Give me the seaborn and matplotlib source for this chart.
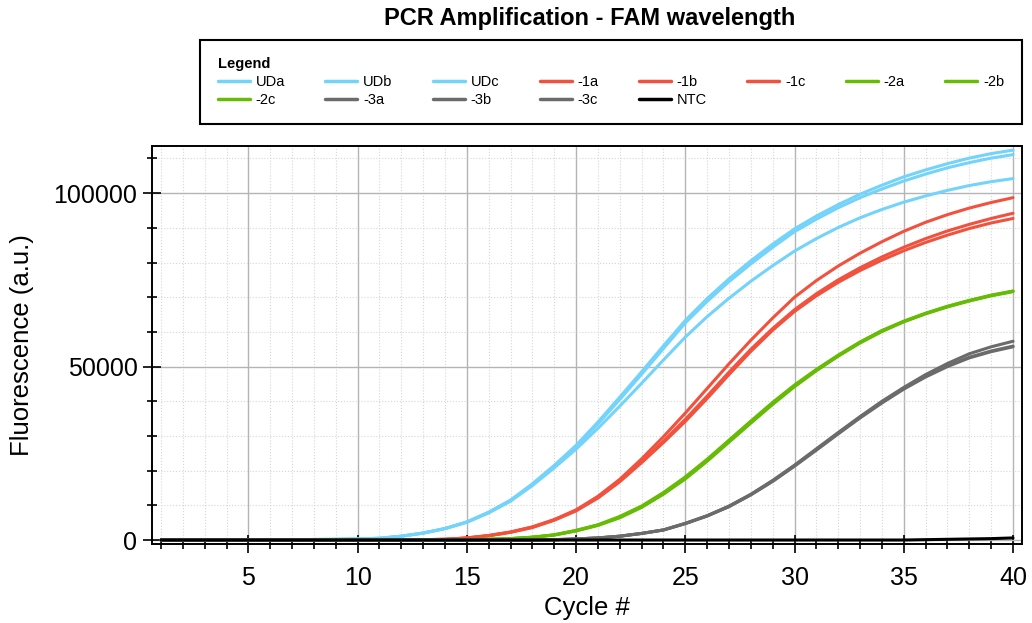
import numpy as np
import pandas as pd
import matplotlib
matplotlib.use("Agg")
import matplotlib.pyplot as plt
from matplotlib.lines import Line2D
from matplotlib.ticker import MultipleLocator, StrMethodFormatter
import seaborn as sns

# cycles and fluorescence readings (a.u.)
cycles = list(range(1, 41))

uda = [0, 0, 0, 0, 0, 50, 100, 150, 200, 300,
       500, 1100, 2000, 3300, 5200, 8000, 11500, 16200, 21500, 27300,
       34000, 41200, 48500, 56000, 63300, 69600, 75300, 80500, 85300, 89700,
       93400, 96700, 99700, 102300, 104700, 106700, 108500, 110100, 111400, 112400]
udb = [0, 0, 0, 0, 0, 50, 100, 150, 200, 300,
       500, 1100, 2000, 3300, 5200, 8000, 11400, 16000, 21300, 26900,
       33500, 40500, 47800, 55200, 62600, 68800, 74500, 79600, 84400, 88900,
       92500, 95800, 98700, 101200, 103500, 105500, 107300, 108800, 110100, 111100]
udc = [0, 0, 0, 0, 0, 50, 100, 150, 200, 300,
       500, 1100, 2000, 3300, 5100, 7800, 11200, 15700, 20800, 26200,
       32200, 38600, 45200, 51900, 58500, 64400, 69700, 74600, 79100, 83300,
       86900, 90100, 92900, 95300, 97400, 99200, 100800, 102200, 103300, 104200]
m1a = [0, 0, 0, 0, 0, 0, 0, 0, 0, 0,
       0, 50, 100, 200, 600, 1300, 2300, 3800, 5900, 8700,
       12600, 17500, 23400, 29800, 36600, 43700, 50800, 57600, 64000, 70000,
       74800, 79000, 82700, 86000, 89000, 91600, 93800, 95700, 97300, 98700]
m1b = [0, 0, 0, 0, 0, 0, 0, 0, 0, 0,
       0, 50, 100, 200, 600, 1300, 2300, 3700, 5800, 8500,
       12300, 17000, 22600, 28500, 34800, 41500, 48400, 55000, 61000, 66400,
       71000, 75000, 78500, 81600, 84400, 86900, 89100, 91000, 92700, 94200]
m1c = [0, 0, 0, 0, 0, 0, 0, 0, 0, 0,
       0, 50, 100, 200, 550, 1200, 2200, 3600, 5700, 8400,
       12100, 16800, 22300, 28100, 34200, 40800, 47700, 54400, 60500, 65900,
       70400, 74300, 77700, 80700, 83400, 85800, 87900, 89800, 91400, 92700]
m2a = [0, 0, 0, 0, 0, 0, 0, 0, 0, 0,
       0, 0, 0, 50, 100, 200, 400, 800, 1500, 2700,
       4300, 6600, 9600, 13400, 17900, 23000, 28500, 34000, 39400, 44500,
       49000, 53200, 57000, 60300, 63000, 65300, 67300, 69000, 70500, 71700]
m2b = [0, 0, 0, 0, 0, 0, 0, 0, 0, 0,
       0, 0, 0, 50, 100, 200, 400, 800, 1400, 2600,
       4200, 6400, 9400, 13200, 17600, 22700, 28200, 33700, 39100, 44200,
       48800, 53000, 56800, 60100, 62900, 65200, 67200, 68900, 70400, 71600]
m2c = [0, 0, 0, 0, 0, 0, 0, 0, 0, 0,
       0, 0, 0, 50, 100, 200, 400, 800, 1500, 2800,
       4400, 6800, 9800, 13700, 18200, 23300, 28800, 34300, 39700, 44700,
       49200, 53300, 57100, 60400, 63100, 65400, 67400, 69100, 70600, 71800]
m3a = [0, 0, 0, 0, 0, 0, 0, 0, 0, 0,
       0, 0, 0, 0, 0, 0, 0, 0, 100, 300,
       600, 1100, 1900, 2900, 4800, 7000, 9800, 13200, 17200, 21600,
       26300, 31000, 35600, 40000, 44000, 47700, 50900, 53700, 55700, 57300]
m3b = [0, 0, 0, 0, 0, 0, 0, 0, 0, 0,
       0, 0, 0, 0, 0, 0, 0, 0, 100, 300,
       600, 1100, 1900, 2900, 4700, 6900, 9600, 13000, 16900, 21300,
       25900, 30600, 35200, 39500, 43500, 47000, 50000, 52500, 54300, 55700]
m3c = [0, 0, 0, 0, 0, 0, 0, 0, 0, 0,
       0, 0, 0, 0, 0, 0, 0, 0, 100, 300,
       600, 1100, 1900, 2900, 4800, 7000, 9700, 13100, 17000, 21400,
       26100, 30800, 35400, 39700, 43700, 47200, 50200, 52700, 54500, 55900]
ntc = [0] * 35 + [100, 200, 300, 400, 600]

samples = ['UDa', 'UDb', 'UDc', '-1a', '-1b', '-1c', '-2a', '-2b', '-2c',
           '-3a', '-3b', '-3c', 'NTC']
series = [uda, udb, udc, m1a, m1b, m1c, m2a, m2b, m2c, m3a, m3b, m3c, ntc]
colors = ['#74D3FA'] * 3 + ['#F2513D'] * 3 + ['#66BB05'] * 3 + ['#6B6B6B'] * 3 + ['#000000']

df = pd.DataFrame({
    'Cycle': cycles * len(samples),
    'Fluorescence': sum(series, []),
    'Sample': np.repeat(samples, len(cycles)),
})

sns.set_style('white')
plt.rcParams['font.family'] = ['Liberation Sans', 'DejaVu Sans']
plt.rcParams['text.color'] = 'black'
plt.rcParams['axes.labelcolor'] = 'black'
plt.rcParams['xtick.color'] = 'black'
plt.rcParams['ytick.color'] = 'black'

fig = plt.figure(figsize=(10.32, 6.23), dpi=100)
ax = fig.add_axes([0.1473, 0.1268, 0.843, 0.6389])

sns.lineplot(data=df, x='Cycle', y='Fluorescence', hue='Sample', hue_order=samples,
             palette=colors, linewidth=2.2, legend=False, ax=ax)

ax.set_xlim(0.59, 40.41)
ax.set_ylim(-1150, 113600)
ax.xaxis.set_major_locator(MultipleLocator(5))
ax.xaxis.set_minor_locator(MultipleLocator(1))
ax.yaxis.set_major_locator(MultipleLocator(50000))
ax.yaxis.set_minor_locator(MultipleLocator(10000))
ax.yaxis.set_major_formatter(StrMethodFormatter('{x:.0f}'))

ax.grid(which='major', color='#b4b4b4', linewidth=1)
ax.grid(which='minor', color='#d6d6d6', linewidth=0.8, linestyle=':')
ax.set_axisbelow(True)

ax.tick_params(which='both', bottom=True, left=True, top=False, right=False,
               direction='inout', color='black', width=1.2)
ax.tick_params(which='major', length=13, labelsize=18, pad=4)
ax.tick_params(which='minor', length=7)
ax.tick_params(axis='x', which='major', pad=9)
for s in ax.spines.values():
    s.set_color('black')
    s.set_linewidth(1.4)

ax.set_xlabel('Cycle #', fontsize=18.5, labelpad=5)
ax.set_ylabel('Fluorescence (a.u.)', fontsize=18.5, labelpad=14)

fig.text(0.571, 0.971, 'PCR Amplification - FAM wavelength', ha='center', va='center',
         fontsize=17, fontweight='bold')

# legend fills column by column, so reorder to read row by row like the original
order = [0, 8, 1, 9, 2, 10, 3, 11, 4, 12, 5, 6, 7]
handles = [Line2D([], [], color=colors[i], linewidth=2.5) for i in order]
labels = [samples[i] for i in order]
leg = fig.legend(handles, labels, ncol=8, loc='upper left',
                 bbox_to_anchor=(0.194, 0.801, 0.796, 0.135), mode='expand',
                 title='Legend', title_fontproperties={'weight': 'bold', 'size': 10.5},
                 alignment='left', fontsize=10.5, frameon=True, fancybox=False,
                 edgecolor='black', handlelength=2.2, handletextpad=0.4,
                 borderaxespad=0, labelspacing=0.25, borderpad=1.2, framealpha=1)
leg.get_frame().set_linewidth(1.5)

fig.savefig('out.png', dpi=100)
